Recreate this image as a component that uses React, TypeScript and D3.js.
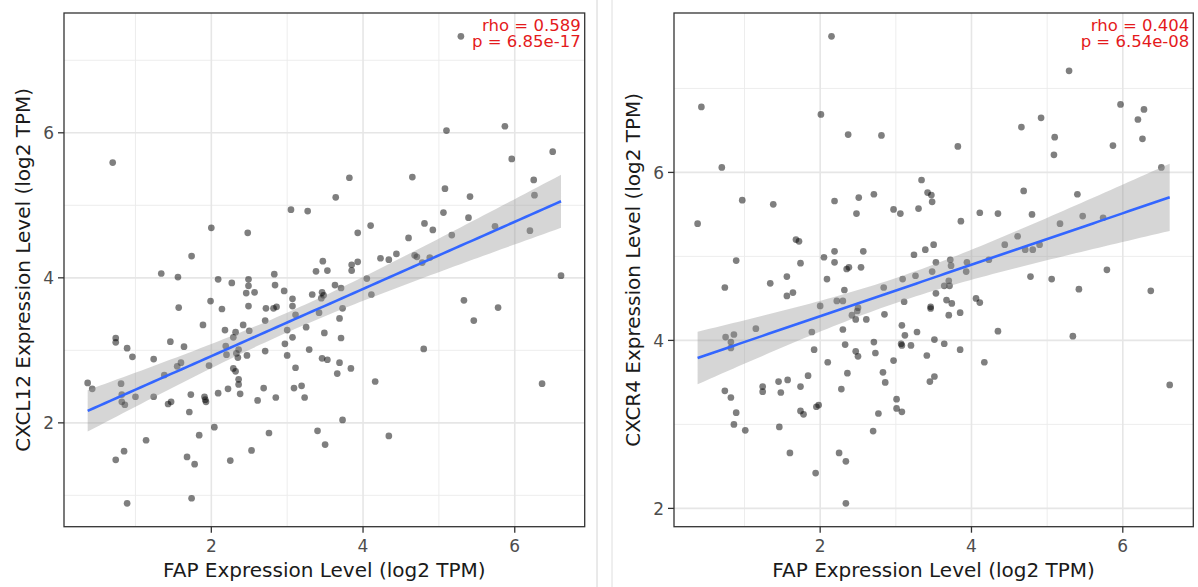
import React from "react";
import * as d3 from "d3";

// FAP (x) vs CXCL12 (y), log2 TPM
const cxcl12Points: [number, number][] = [
  [0.70,5.59],[3.05,4.94],[2.00,4.69],[2.48,4.62],[1.74,4.30],[1.34,4.06],[1.56,4.01],[2.09,3.98],[2.49,3.98],[2.83,4.05],
  [5.29,7.33],[5.10,6.03],[5.87,6.09],[6.50,5.74],[5.96,5.64],[3.82,5.38],[4.65,5.39],[5.08,5.23],[6.25,5.35],[6.26,5.14],
  [5.41,5.12],[3.64,5.11],[3.27,4.92],[5.06,4.90],[5.39,4.83],[4.81,4.75],[4.92,4.66],[5.74,4.71],[6.20,4.65],[4.10,4.72],
  [3.93,4.62],[5.17,4.59],[4.60,4.55],[3.47,4.23],[3.38,4.09],[3.53,4.10],[3.85,4.18],[3.93,4.22],[3.85,4.10],[4.23,4.27],
  [4.34,4.25],[4.44,4.33],[4.68,4.31],[4.71,4.29],[4.78,4.21],[4.88,4.28],[4.05,3.99],[6.61,4.03],[5.33,3.69],[5.46,3.41],
  [5.78,3.59],[4.80,3.02],[4.16,2.57],[6.36,2.54],[4.34,1.82],[3.73,2.04],[3.40,1.89],[3.50,1.70],[4.11,3.77],[3.63,3.90],
  [3.71,3.86],[3.46,3.80],[3.33,3.77],[3.45,3.72],[3.07,3.71],[3.07,3.61],[3.42,3.52],[3.73,3.58],[3.11,3.49],[3.69,3.44],
  [3.25,3.32],[3.49,3.24],[3.07,3.18],[3.71,3.17],[3.29,3.01],[3.46,2.89],[3.53,2.87],[3.69,2.83],[3.66,2.68],[3.84,2.75],
  [3.11,2.76],[3.09,2.48],[3.19,2.51],[3.23,2.35],[0.37,2.55],[0.43,2.47],[0.74,3.17],[0.74,3.11],[0.89,3.03],[0.96,2.91],
  [0.81,2.54],[0.82,2.39],[0.82,2.29],[0.86,2.25],[1.00,2.36],[1.24,2.88],[1.24,2.36],[1.38,2.66],[1.46,3.12],[1.43,2.26],
  [1.47,2.29],[1.55,2.78],[1.60,2.83],[1.64,3.05],[1.57,3.59],[1.89,3.35],[1.99,3.68],[2.14,3.57],[2.27,3.93],[2.46,3.79],
  [2.49,3.89],[2.57,3.80],[2.49,3.61],[2.72,3.58],[2.82,3.58],[2.84,3.90],[2.96,3.82],[1.97,2.79],[2.18,3.28],[2.19,3.06],
  [2.29,3.18],[2.32,3.25],[2.42,3.35],[2.50,3.27],[2.33,2.96],[2.35,2.90],[2.36,3.01],[2.47,2.93],[2.29,2.75],[2.32,2.71],
  [2.36,2.60],[2.36,2.53],[2.38,2.40],[2.22,2.47],[2.09,2.41],[1.73,2.39],[1.91,2.36],[1.93,2.29],[1.71,2.15],[2.61,2.31],
  [2.69,2.48],[2.85,2.35],[2.71,2.99],[2.71,3.41],[3.00,3.28],[2.97,3.09],[3.00,2.93],[2.04,1.94],[1.84,1.83],[1.14,1.76],
  [0.85,1.61],[0.74,1.49],[1.68,1.53],[1.78,1.43],[2.25,1.48],[2.53,1.62],[2.76,1.86],[1.74,0.96],[0.89,0.89],[2.86,3.60],
  [3.48,3.76],[2.20,2.94],[1.92,2.32],
];

// FAP (x) vs CXCR4 (y), log2 TPM
const cxcr4Points: [number, number][] = [
  [2.15,7.62],[0.43,6.78],[2.01,6.69],[2.37,6.45],[2.81,6.44],[0.70,6.06],[0.97,5.67],[1.38,5.62],[2.19,5.66],[2.51,5.70],
  [2.71,5.74],[2.48,5.51],[2.97,5.56],[0.38,5.39],[1.68,5.20],[1.72,5.18],[0.89,4.95],[1.74,4.92],[2.05,4.99],[2.19,5.06],
  [2.19,4.93],[2.57,5.06],[2.35,4.85],[2.38,4.87],[2.54,4.87],[1.56,4.76],[2.09,4.73],[5.29,7.21],[5.97,6.81],[6.28,6.75],
  [6.20,6.63],[4.92,6.65],[4.66,6.54],[5.10,6.42],[6.26,6.40],[5.09,6.21],[5.87,6.32],[3.82,6.31],[6.51,6.06],[3.34,5.91],
  [3.42,5.76],[3.47,5.73],[3.48,5.65],[3.06,5.51],[3.30,5.57],[3.86,5.42],[4.11,5.52],[4.35,5.51],[4.69,5.78],[4.80,5.50],
  [5.40,5.74],[5.47,5.48],[5.74,5.46],[5.17,5.39],[4.61,5.24],[4.44,5.14],[4.71,5.08],[4.81,5.08],[4.90,5.14],[4.23,4.96],
  [3.94,4.93],[3.93,4.82],[3.72,4.96],[3.73,4.89],[3.53,4.93],[3.24,5.02],[3.39,5.08],[3.50,5.14],[3.48,4.82],[3.26,4.77],
  [3.09,4.73],[5.79,4.84],[4.78,4.76],[5.06,4.73],[5.42,4.61],[6.37,4.59],[3.64,4.65],[3.71,4.65],[3.70,4.71],[3.53,4.56],
  [3.11,4.46],[3.67,4.48],[3.74,4.44],[4.06,4.50],[4.11,4.45],[3.46,4.40],[3.46,4.38],[3.70,4.30],[3.85,4.33],[4.35,4.11],
  [3.08,4.18],[3.28,4.10],[3.12,4.06],[3.51,4.01],[3.07,3.96],[3.08,3.94],[3.20,3.94],[3.64,3.96],[5.34,4.05],[3.41,3.82],
  [3.85,3.89],[4.17,3.74],[2.97,3.76],[3.45,3.51],[3.51,3.57],[3.01,3.30],[3.01,3.19],[3.08,3.15],[6.62,3.47],[0.74,4.63],
  [1.34,4.68],[1.56,4.53],[1.64,4.57],[2.32,4.60],[2.22,4.47],[2.30,4.47],[2.00,4.41],[2.50,4.39],[2.49,4.35],[2.42,4.30],
  [2.47,4.25],[2.61,4.25],[2.84,4.63],[2.85,4.31],[0.86,4.07],[0.75,4.04],[0.82,3.98],[0.82,3.91],[1.15,4.14],[1.89,4.10],
  [1.92,3.89],[2.10,3.74],[2.30,4.13],[2.33,3.95],[2.47,3.87],[2.50,3.81],[2.71,3.98],[2.73,3.85],[2.36,3.61],[2.28,3.42],
  [2.83,3.62],[2.86,3.50],[1.84,3.58],[1.74,3.45],[1.57,3.53],[1.45,3.51],[1.48,3.38],[1.24,3.45],[1.24,3.39],[0.74,3.40],
  [0.82,3.32],[0.89,3.14],[0.86,3.00],[1.01,2.93],[1.46,2.97],[1.74,3.16],[1.78,3.12],[1.95,3.21],[1.98,3.23],[2.77,3.13],
  [2.70,2.92],[1.60,2.66],[2.25,2.66],[2.34,2.56],[1.94,2.42],[2.34,2.06],
];

const xTickValues = [2, 4, 6];
const yTickValues = [2, 4, 6];
const xLabel = "FAP Expression Level (log2 TPM)";
const panelLabels = ["CXCL12 Expression Level (log2 TPM)", "CXCR4 Expression Level (log2 TPM)"];
const rhoLabels = ["rho = 0.589", "rho = 0.404"];
const pLabels = ["p = 6.85e-17", "p = 6.54e-08"];

const FONT = "DejaVu Sans, Verdana, sans-serif";
const T_CRIT = 1.975;

function expand(ext: [number, number]): [number, number] {
  const r = ext[1] - ext[0];
  return [ext[0] - 0.05 * r, ext[1] + 0.05 * r];
}

function fitLm(pts: [number, number][]) {
  const n = pts.length;
  const mx = d3.mean(pts, (d) => d[0])!;
  const my = d3.mean(pts, (d) => d[1])!;
  let sxx = 0, sxy = 0;
  pts.forEach(([x, y]) => { sxx += (x - mx) ** 2; sxy += (x - mx) * (y - my); });
  const b = sxy / sxx;
  const a = my - b * mx;
  let sse = 0;
  pts.forEach(([x, y]) => { sse += (y - a - b * x) ** 2; });
  const s = Math.sqrt(sse / (n - 2));
  const [x0, x1] = d3.extent(pts, (d) => d[0]) as [number, number];
  const xs = d3.range(0, 81).map((i) => x0 + ((x1 - x0) * i) / 80);
  return xs.map((x) => {
    const yhat = a + b * x;
    const se = s * Math.sqrt(1 / n + (x - mx) ** 2 / sxx);
    return { x, y: yhat, lo: yhat - T_CRIT * se, hi: yhat + T_CRIT * se };
  });
}

interface PanelProps {
  points: [number, number][];
  left: number; right: number; top: number; bottom: number;
  yTitle: string; rho: string; p: string; titleX: number;
}

function Panel({ points, left, right, top, bottom, yTitle, rho, p, titleX }: PanelProps) {
  const fit = fitLm(points);
  const xDom = expand(d3.extent(points, (d) => d[0]) as [number, number]);
  const yExt = d3.extent(points, (d) => d[1]) as [number, number];
  const yDom = expand([Math.min(yExt[0], d3.min(fit, (f) => f.lo)!), Math.max(yExt[1], d3.max(fit, (f) => f.hi)!)]);
  const x = d3.scaleLinear().domain(xDom).range([left, right]);
  const y = d3.scaleLinear().domain(yDom).range([bottom, top]);
  const xMinor = d3.range(Math.ceil(xDom[0]), Math.floor(xDom[1]) + 1).filter((v) => v % 2 === 1);
  const yMinor = d3.range(Math.ceil(yDom[0]), Math.floor(yDom[1]) + 1).filter((v) => v % 2 === 1);
  const xMaj = xTickValues.filter((v) => v >= xDom[0] && v <= xDom[1]);
  const yMaj = yTickValues.filter((v) => v >= yDom[0] && v <= yDom[1]);
  const area = d3.area<{ x: number; lo: number; hi: number }>().x((d) => x(d.x)).y0((d) => y(d.lo)).y1((d) => y(d.hi));
  const line = d3.line<{ x: number; y: number }>().x((d) => x(d.x)).y((d) => y(d.y));
  const cx = (left + right) / 2;
  const cy = (top + bottom) / 2;
  const clipId = `clip-${Math.round(left)}`;
  return (
    <g>
      <defs>
        <clipPath id={clipId}><rect x={left} y={top} width={right - left} height={bottom - top} /></clipPath>
      </defs>
      <rect x={left} y={top} width={right - left} height={bottom - top} fill="#fff" />
      {xMinor.map((v) => <line key={`xm${v}`} x1={x(v)} x2={x(v)} y1={top} y2={bottom} stroke="#ebebeb" strokeWidth={0.9} />)}
      {yMinor.map((v) => <line key={`ym${v}`} x1={left} x2={right} y1={y(v)} y2={y(v)} stroke="#ebebeb" strokeWidth={0.9} />)}
      {xMaj.map((v) => <line key={`xM${v}`} x1={x(v)} x2={x(v)} y1={top} y2={bottom} stroke="#e6e6e6" strokeWidth={1.6} />)}
      {yMaj.map((v) => <line key={`yM${v}`} x1={left} x2={right} y1={y(v)} y2={y(v)} stroke="#e6e6e6" strokeWidth={1.6} />)}
      <g clipPath={`url(#${clipId})`}>
        {points.map((d, i) => (
          <circle key={i} cx={x(d[0])} cy={y(d[1])} r={3.35} fill="#000" fillOpacity={0.5} />
        ))}
        <path d={area(fit)!} fill="#999" fillOpacity={0.4} />
        <path d={line(fit)!} fill="none" stroke="#3366ff" strokeWidth={2.6} />
      </g>
      <rect x={left} y={top} width={right - left} height={bottom - top} fill="none" stroke="#333" strokeWidth={1.3} />
      {xMaj.map((v) => (
        <g key={`xt${v}`}>
          <line x1={x(v)} x2={x(v)} y1={bottom} y2={bottom + 6} stroke="#333" strokeWidth={1.3} />
          <text x={x(v)} y={bottom + 25} textAnchor="middle" fontSize={17} fill="#4d4d4d" fontFamily={FONT}>{v}</text>
        </g>
      ))}
      {yMaj.map((v) => (
        <g key={`yt${v}`}>
          <line x1={left - 6} x2={left} y1={y(v)} y2={y(v)} stroke="#333" strokeWidth={1.3} />
          <text x={left - 10} y={y(v)} dy="0.36em" textAnchor="end" fontSize={17} fill="#4d4d4d" fontFamily={FONT}>{v}</text>
        </g>
      ))}
      <text x={cx} y={577} textAnchor="middle" fontSize={20} fill="#1a1a1a" fontFamily={FONT}>{xLabel}</text>
      <text transform={`translate(${titleX},${cy}) rotate(-90)`} textAnchor="middle" dy="0.36em" fontSize={20} fill="#1a1a1a" fontFamily={FONT}>{yTitle}</text>
      <text x={right - 4} y={31} textAnchor="end" fontSize={16.5} fill="#e41a1c" fontFamily={FONT}>{rho}</text>
      <text x={right - 4} y={47} textAnchor="end" fontSize={16.5} fill="#e41a1c" fontFamily={FONT}>{p}</text>
    </g>
  );
}

export default function App() {
  return (
    <svg width={1198} height={587} style={{ position: "absolute", left: 0, top: 0, background: "#fff" }}>
      <rect x={0} y={0} width={1198} height={587} fill="#fff" />
      <line x1={597} x2={597} y1={0} y2={587} stroke="#d4d4d4" strokeWidth={1} />
      <line x1={612} x2={612} y1={0} y2={587} stroke="#dedede" strokeWidth={1} />
      <Panel points={cxcl12Points} left={64} right={584.7} top={13} bottom={526.7}
        yTitle={panelLabels[0]} rho={rhoLabels[0]} p={pLabels[0]} titleX={23} />
      <Panel points={cxcr4Points} left={674} right={1193.3} top={13} bottom={526.7}
        yTitle={panelLabels[1]} rho={rhoLabels[1]} p={pLabels[1]} titleX={633} />
    </svg>
  );
}
